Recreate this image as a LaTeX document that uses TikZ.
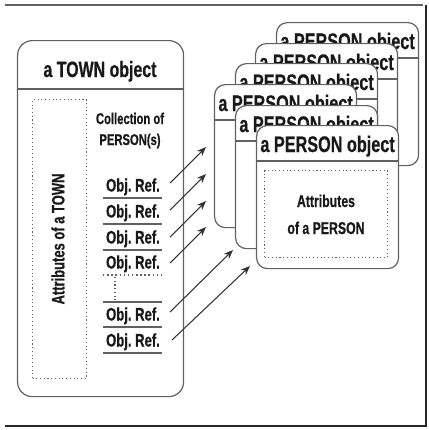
\documentclass[tikz,border=0pt]{standalone}
\usepackage{fontspec}
\setmainfont{Liberation Sans}
\newfontfamily\cf[FakeStretch=0.72,FakeBold=0.6]{Liberation Sans}
\usetikzlibrary{arrows.meta}
\definecolor{boxgray}{gray}{0.38}
\definecolor{ink}{gray}{0.1}
\begin{document}
\begin{tikzpicture}[x=0.75pt,y=-0.75pt,
  outline/.style={draw=boxgray,line width=0.9pt},
  townbox/.style={outline,fill=white,rounded corners=11pt},
  card/.style={outline,fill=white,rounded corners=8pt,minimum width=106.5pt,minimum height=107.25pt,inner sep=0pt,anchor=north west},
  dotbox/.style={draw=boxgray,dotted,line width=0.8pt,inner sep=0pt},
  label/.style={inner sep=0pt,anchor=base,text=ink,font=\cf\bfseries},
  ttitle/.style={label,font=\cf\bfseries\fontsize{16.6}{18}\selectfont},
  ptitle/.style={label,font=\cf\bfseries\fontsize{16.9}{18}\selectfont},
  coll/.style={label,font=\cf\bfseries\fontsize{11.7}{13}\selectfont},
  oref/.style={label,font=\cf\bfseries\fontsize{13.6}{15}\selectfont},
  attr/.style={label,font=\cf\bfseries\fontsize{12.8}{14}\selectfont},
  sepline/.style={draw=boxgray,line width=0.9pt},
  ptr/.style={draw=black!80,line width=0.8pt,-{Stealth[length=7pt,width=5.5pt]}}
]
\useasboundingbox (0,0) rectangle (429,430);
% frame
\draw[gray!75!black,line width=0.9pt] (5,5) -- (423,5);
\draw[black!85,line width=1.5pt] (426,5) -- (426,426) -- (5,426);

% TOWN object
\node[townbox,minimum width=124.5pt,minimum height=267pt,inner sep=0pt,anchor=north west] (town) at (17,40) {};
\draw[sepline] (17,89) -- (183,89);
\node[ttitle] (ttl) at (100,77) {a TOWN object};
\node[dotbox,minimum width=40.5pt,minimum height=209.25pt,anchor=north west] (tattr) at (32,99) {};
\node[label,font=\cf\bfseries\fontsize{13.5}{15}\selectfont,anchor=center,rotate=90] (tattrtxt) at (58,239) {Attributes of a TOWN};

\node[coll] (c1) at (130,124) {Collection of};
\node[coll] (c2) at (130,145) {PERSON(s)};

\node[oref] (r1) at (133,191.5) {Obj.\ Ref.};
\node[oref] (r2) at (133,217.5) {Obj.\ Ref.};
\node[oref] (r3) at (133,243.5) {Obj.\ Ref.};
\node[oref] (r4) at (133,268.5) {Obj.\ Ref.};
\node[oref] (r5) at (133,320.5) {Obj.\ Ref.};
\node[oref] (r6) at (133,346.5) {Obj.\ Ref.};
\foreach \yy in {198,224,250,302,327,353} {
  \draw[sepline] (103,\yy) -- (162,\yy);
}
\draw[draw=boxgray,line width=1.1pt,dotted] (103,275) -- (162,275);
\draw[draw=boxgray,line width=0.8pt,dotted] (115,277) -- (115,300);

% PERSON objects
\foreach \n/\cx/\cy in {1/276/22,2/255/43,3/235/63,4/214/84,5/235/105,6/256/125} {
  \node[card] (p\n) at (\cx,\cy) {};
  \draw[sepline] ([yshift=-27pt]p\n.north west) -- ([yshift=-27pt]p\n.north east);
  \node[ptitle] (pt\n) at ([yshift=-20.25pt]p\n.north) {a PERSON object};
}
\node[dotbox,minimum width=92.25pt,minimum height=65.25pt,anchor=north west] (pattr) at (264,170) {};
\node[attr] (pa1) at (326,207) {Attributes};
\node[attr] (pa2) at (326,234) {of a PERSON};

% references
\coordinate (t1) at (170,183); \coordinate (h1) at (206,147);
\coordinate (t2) at (170,210); \coordinate (h2) at (206,174);
\coordinate (t3) at (170,237); \coordinate (h3) at (206,201);
\coordinate (t4) at (170,263); \coordinate (h4) at (206,227);
\coordinate (t5) at (170,312); \coordinate (h5) at (233,250);
\coordinate (t6) at (172,340); \coordinate (h6) at (250,266);
\foreach \i in {1,...,6} { \draw[ptr] (t\i) -- (h\i); }
\end{tikzpicture}
\end{document}
